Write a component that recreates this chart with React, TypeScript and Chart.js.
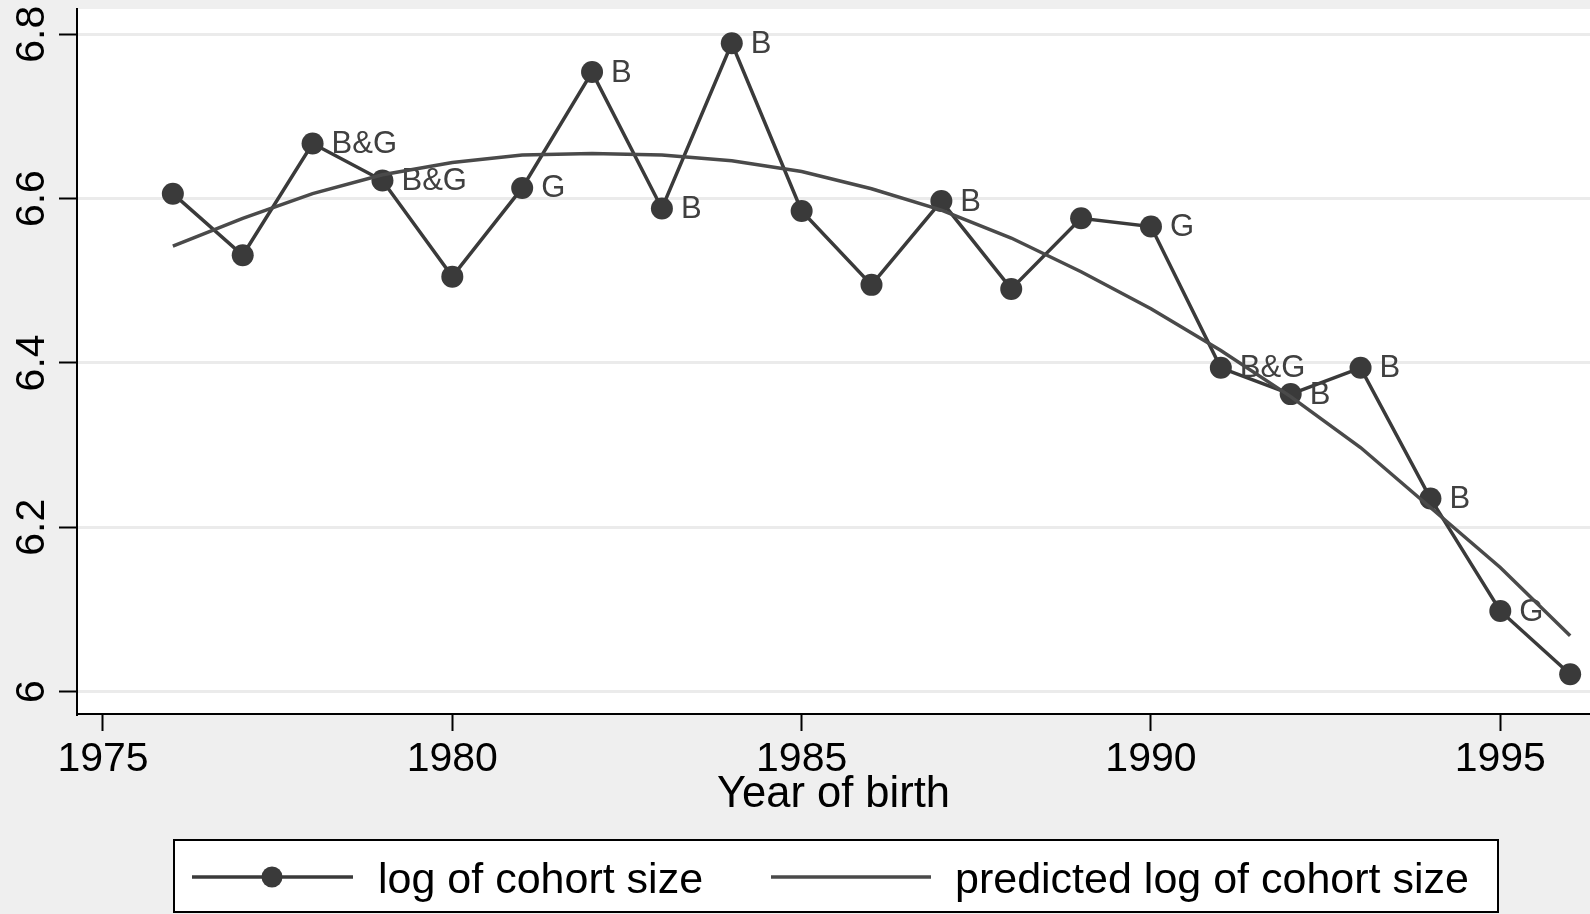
import React, { useEffect, useRef } from 'react';
import { Chart, registerables } from 'chart.js';

Chart.register(...registerables);

const years = [1976, 1977, 1978, 1979, 1980, 1981, 1982, 1983, 1984, 1985, 1986, 1987, 1988, 1989, 1990, 1991, 1992, 1993, 1994, 1995, 1996];
const logCohortSize = [6.606, 6.531, 6.667, 6.622, 6.505, 6.613, 6.754, 6.588, 6.789, 6.585, 6.495, 6.597, 6.490, 6.576, 6.566, 6.394, 6.362, 6.394, 6.235, 6.098, 6.021];
const predictedLogCohortSize = [6.542, 6.576, 6.606, 6.629, 6.644, 6.653, 6.655, 6.653, 6.646, 6.633, 6.612, 6.586, 6.552, 6.511, 6.466, 6.415, 6.359, 6.297, 6.224, 6.151, 6.068];
const pointLabels = ['', '', 'B&G', 'B&G', '', 'G', 'B', 'B', 'B', '', '', 'B', '', '', 'G', 'B&G', 'B', 'B', 'B', 'G', ''];
const xTickValues = [1975, 1980, 1985, 1990, 1995];
const yTickValues = [6, 6.2, 6.4, 6.6, 6.8];
const seriesNames = ['log of cohort size', 'predicted log of cohort size'];

const FONT = '"Liberation Sans", Arial, Helvetica, sans-serif';
const DARK = '#3a3a3a';
const PRED = '#4a4a4a';

const backgroundPlugin = {
  id: 'bgPlugin',
  beforeDraw(chart: any) {
    const { ctx, chartArea, width, height } = chart;
    ctx.save();
    ctx.fillStyle = '#efefef';
    ctx.fillRect(0, 0, width, height);
    ctx.fillStyle = '#ffffff';
    ctx.fillRect(chartArea.left, chartArea.top, chartArea.right - chartArea.left, chartArea.bottom - chartArea.top);
    ctx.restore();
  },
};

const labelPlugin = {
  id: 'pointLabelPlugin',
  afterDatasetDraw(chart: any, args: any) {
    if (args.index !== 0) return;
    const meta = chart.getDatasetMeta(0);
    const { ctx } = chart;
    ctx.save();
    ctx.font = `31px ${FONT}`;
    ctx.fillStyle = '#404040';
    ctx.textAlign = 'left';
    ctx.textBaseline = 'middle';
    meta.data.forEach((pt: any, i: number) => {
      const t = pointLabels[i];
      if (t) ctx.fillText(t, pt.x + 19, pt.y + 1);
    });
    ctx.restore();
  },
};

const legendPlugin = {
  id: 'customLegend',
  afterDraw(chart: any) {
    const { ctx } = chart;
    const ds = chart.data.datasets;
    ctx.save();
    ctx.fillStyle = '#ffffff';
    ctx.fillRect(174, 840, 1324, 72);
    ctx.strokeStyle = '#000000';
    ctx.lineWidth = 2;
    ctx.strokeRect(174, 840, 1324, 72);
    const ly = 877;
    ctx.strokeStyle = ds[0].borderColor;
    ctx.lineWidth = 3.5;
    ctx.beginPath();
    ctx.moveTo(192, ly);
    ctx.lineTo(353, ly);
    ctx.stroke();
    ctx.fillStyle = ds[0].pointBackgroundColor;
    ctx.beginPath();
    ctx.arc(272, ly, 10.5, 0, Math.PI * 2);
    ctx.fill();
    ctx.strokeStyle = ds[1].borderColor;
    ctx.beginPath();
    ctx.moveTo(771, ly);
    ctx.lineTo(931, ly);
    ctx.stroke();
    ctx.fillStyle = '#000000';
    ctx.font = `43px ${FONT}`;
    ctx.textAlign = 'left';
    ctx.textBaseline = 'alphabetic';
    ctx.fillText(ds[0].label, 378, 893);
    ctx.fillText(ds[1].label, 955, 893);
    ctx.restore();
  },
};

export default function App() {
  const canvasRef = useRef<HTMLCanvasElement | null>(null);

  useEffect(() => {
    document.body.style.margin = '0';
    document.body.style.overflow = 'hidden';
    const canvas = canvasRef.current;
    if (!canvas) return;
    const chart = new Chart(canvas, {
      type: 'line',
      data: {
        datasets: [
          {
            label: seriesNames[0],
            data: years.map((y, i) => ({ x: y, y: logCohortSize[i] })),
            borderColor: DARK,
            backgroundColor: DARK,
            pointBackgroundColor: DARK,
            pointBorderColor: DARK,
            pointBorderWidth: 0,
            pointRadius: 11,
            borderWidth: 3.5,
            tension: 0,
            fill: false,
            order: 1,
          },
          {
            label: seriesNames[1],
            data: years.map((y, i) => ({ x: y, y: predictedLogCohortSize[i] })),
            borderColor: PRED,
            backgroundColor: PRED,
            pointBackgroundColor: PRED,
            pointRadius: 0,
            borderWidth: 3.5,
            tension: 0,
            fill: false,
            order: 0,
          },
        ],
      },
      options: {
        animation: false,
        responsive: false,
        devicePixelRatio: 1,
        events: [],
        layout: { autoPadding: false, padding: { top: 9, right: 0, bottom: 93, left: 0 } },
        plugins: {
          legend: { display: false },
          tooltip: { enabled: false },
          title: { display: false },
        },
        scales: {
          x: {
            type: 'linear',
            min: 1974.628,
            max: 1996.284,
            afterBuildTicks: (s: any) => {
              s.ticks = xTickValues.map((v) => ({ value: v }));
            },
            afterFit: (s: any) => {
              s.height = 107;
              s.paddingLeft = 0;
              s.paddingRight = 0;
            },
            grid: { drawOnChartArea: false, drawTicks: true, tickLength: 17, tickColor: '#000', tickWidth: 2 },
            border: { display: true, color: '#000', width: 2 },
            ticks: {
              font: { family: FONT, size: 41 },
              color: '#000',
              padding: 4,
              maxRotation: 0,
              minRotation: 0,
              autoSkip: false,
              callback: (v: any) => String(v),
            },
            title: {
              display: true,
              text: 'Year of birth',
              font: { family: FONT, size: 43.5 },
              color: '#000',
              padding: 0,
            },
          },
          y: {
            type: 'linear',
            min: 5.9726,
            max: 6.8308,
            afterBuildTicks: (s: any) => {
              s.ticks = yTickValues.map((v) => ({ value: v }));
            },
            afterFit: (s: any) => {
              s.width = 77;
              s.paddingTop = 0;
              s.paddingBottom = 0;
            },
            grid: { color: '#ebebeb', lineWidth: 3, drawTicks: true, tickLength: 18, tickColor: '#000', tickWidth: 2 },
            border: { display: true, color: '#000', width: 2 },
            ticks: {
              font: { family: FONT, size: 41 },
              color: '#000',
              padding: -2,
              minRotation: 90,
              maxRotation: 90,
              crossAlign: 'center',
              autoSkip: false,
              callback: (v: any) => String(v),
            },
          },
        },
      } as any,
      plugins: [backgroundPlugin, labelPlugin, legendPlugin],
    });
    return () => chart.destroy();
  }, []);

  return (
    <div style={{ width: 1590, height: 914, overflow: 'hidden' }}>
      <canvas ref={canvasRef} width={1590} height={914} style={{ display: 'block', width: 1590, height: 914 }} />
    </div>
  );
}
